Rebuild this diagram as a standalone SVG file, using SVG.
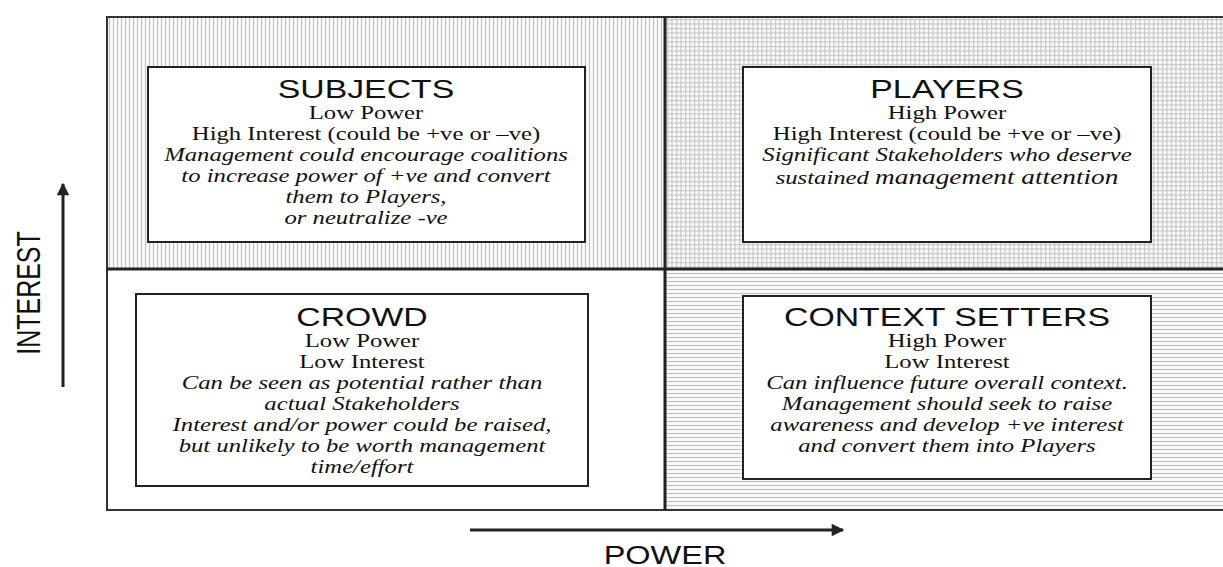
<svg xmlns="http://www.w3.org/2000/svg" width="1223" height="567" viewBox="0 0 1223 567">
<style>
.box{fill:#fff;stroke:#222;stroke-width:2}
.title{font-family:"Liberation Sans",Arial,sans-serif;font-size:26px;fill:#111;text-anchor:middle}
.sr{font-family:"Liberation Serif","Times New Roman",serif;font-size:19px;fill:#111;text-anchor:middle}
.it{font-family:"Liberation Serif","Times New Roman",serif;font-size:19px;font-style:italic;fill:#111;text-anchor:middle}
.axis{stroke:#222;stroke-width:3;fill:none}
.axlabel{font-family:"Liberation Sans",Arial,sans-serif;font-size:25px;fill:#111;text-anchor:middle}
.div{stroke:#222;stroke-width:3}
</style>
<defs>
<pattern id="pv" width="4" height="4" patternUnits="userSpaceOnUse">
<rect width="4" height="4" fill="#fbfbfb"/>
<line x1="1.5" y1="0" x2="1.5" y2="4" stroke="#c2c2c2" stroke-width="1.2"/>
</pattern>
<pattern id="pg" width="4.5" height="4.5" patternUnits="userSpaceOnUse">
<rect width="4.5" height="4.5" fill="#fbfbfb"/>
<line x1="1.5" y1="0" x2="1.5" y2="4.5" stroke="#c6c6c6" stroke-width="1.2"/>
<line x1="0" y1="1.5" x2="4.5" y2="1.5" stroke="#c6c6c6" stroke-width="1.2"/>
</pattern>
<pattern id="ph" width="4" height="4" patternUnits="userSpaceOnUse">
<rect width="4" height="4" fill="#fbfbfb"/>
<line x1="0" y1="1.5" x2="4" y2="1.5" stroke="#c2c2c2" stroke-width="1.2"/>
</pattern>
<marker id="ah" viewBox="0 0 10 10" refX="9" refY="5" markerWidth="5" markerHeight="4.2" orient="auto" markerUnits="strokeWidth">
<path d="M0,0 L10,5 L0,10 z" fill="#222"/>
</marker>
</defs>

<g id="grid">
<rect x="107" y="17" width="558" height="252" fill="url(#pv)"/>
<rect x="665" y="17" width="560" height="252" fill="url(#pg)"/>
<rect x="665" y="269" width="560" height="241" fill="url(#ph)"/>
<rect x="107" y="269" width="558" height="241" fill="#fff"/>
<path d="M1225,17 H107 V510 H1225" fill="none" stroke="#333" stroke-width="2"/>
<line class="div" x1="665" y1="17" x2="665" y2="510"/>
<line class="div" x1="107" y1="269" x2="1225" y2="269"/>
</g>

<g id="subjects">
<rect class="box" x="148" y="67" width="437" height="175"/>
<g transform="translate(366,0) scale(1.3,1)">
<text class="title" x="0" y="98">SUBJECTS</text>
<text class="sr" x="0" y="119">Low Power</text>
<text class="sr" x="0" y="140">High Interest (could be +ve or –ve)</text>
<text class="it" x="0" y="161">Management could encourage coalitions</text>
<text class="it" x="0" y="182">to increase power of +ve and convert</text>
<text class="it" x="0" y="203">them to Players,</text>
<text class="it" x="0" y="224">or neutralize -ve</text>
</g>
</g>

<g id="players">
<rect class="box" x="743" y="67" width="408" height="175"/>
<g transform="translate(947,0) scale(1.3,1)">
<text class="title" x="0" y="98">PLAYERS</text>
<text class="sr" x="0" y="119">High Power</text>
<text class="sr" x="0" y="140">High Interest (could be +ve or –ve)</text>
<text class="it" x="0" y="161">Significant Stakeholders who deserve</text>
<text class="it" x="0" y="184">sustained <tspan font-size="21">management attention</tspan></text>
</g>
</g>

<g id="crowd">
<rect class="box" x="136" y="294" width="452" height="192"/>
<g transform="translate(362,0) scale(1.3,1)">
<text class="title" x="0" y="326">CROWD</text>
<text class="sr" x="0" y="347">Low Power</text>
<text class="sr" x="0" y="368">Low Interest</text>
<text class="it" x="0" y="389">Can be seen as potential rather than</text>
<text class="it" x="0" y="410">actual Stakeholders</text>
<text class="it" x="0" y="431">Interest and/or power could be raised,</text>
<text class="it" x="0" y="452">but unlikely to be worth management</text>
<text class="it" x="0" y="473">time/effort</text>
</g>
</g>

<g id="context-setters">
<rect class="box" x="743" y="296" width="408" height="183"/>
<g transform="translate(947,0) scale(1.3,1)">
<text class="title" x="0" y="326">CONTEXT SETTERS</text>
<text class="sr" x="0" y="347">High Power</text>
<text class="sr" x="0" y="368">Low Interest</text>
<text class="it" x="0" y="389">Can influence future overall context.</text>
<text class="it" x="0" y="410">Management should seek to raise</text>
<text class="it" x="0" y="431">awareness and develop +ve interest</text>
<text class="it" x="0" y="452">and convert them into Players</text>
</g>
</g>

<g id="connectors">
<line class="axis" x1="63" y1="387" x2="63" y2="184" marker-end="url(#ah)"/>
<line class="axis" x1="470" y1="530" x2="843" y2="530" marker-end="url(#ah)"/>
</g>

<g id="labels">
<text class="axlabel" transform="translate(40,293) scale(1.3,1) rotate(-90)" x="0" y="0">INTEREST</text>
<text class="axlabel" transform="translate(665,564) scale(1.3,1)" x="0" y="0">POWER</text>
</g>
</svg>
